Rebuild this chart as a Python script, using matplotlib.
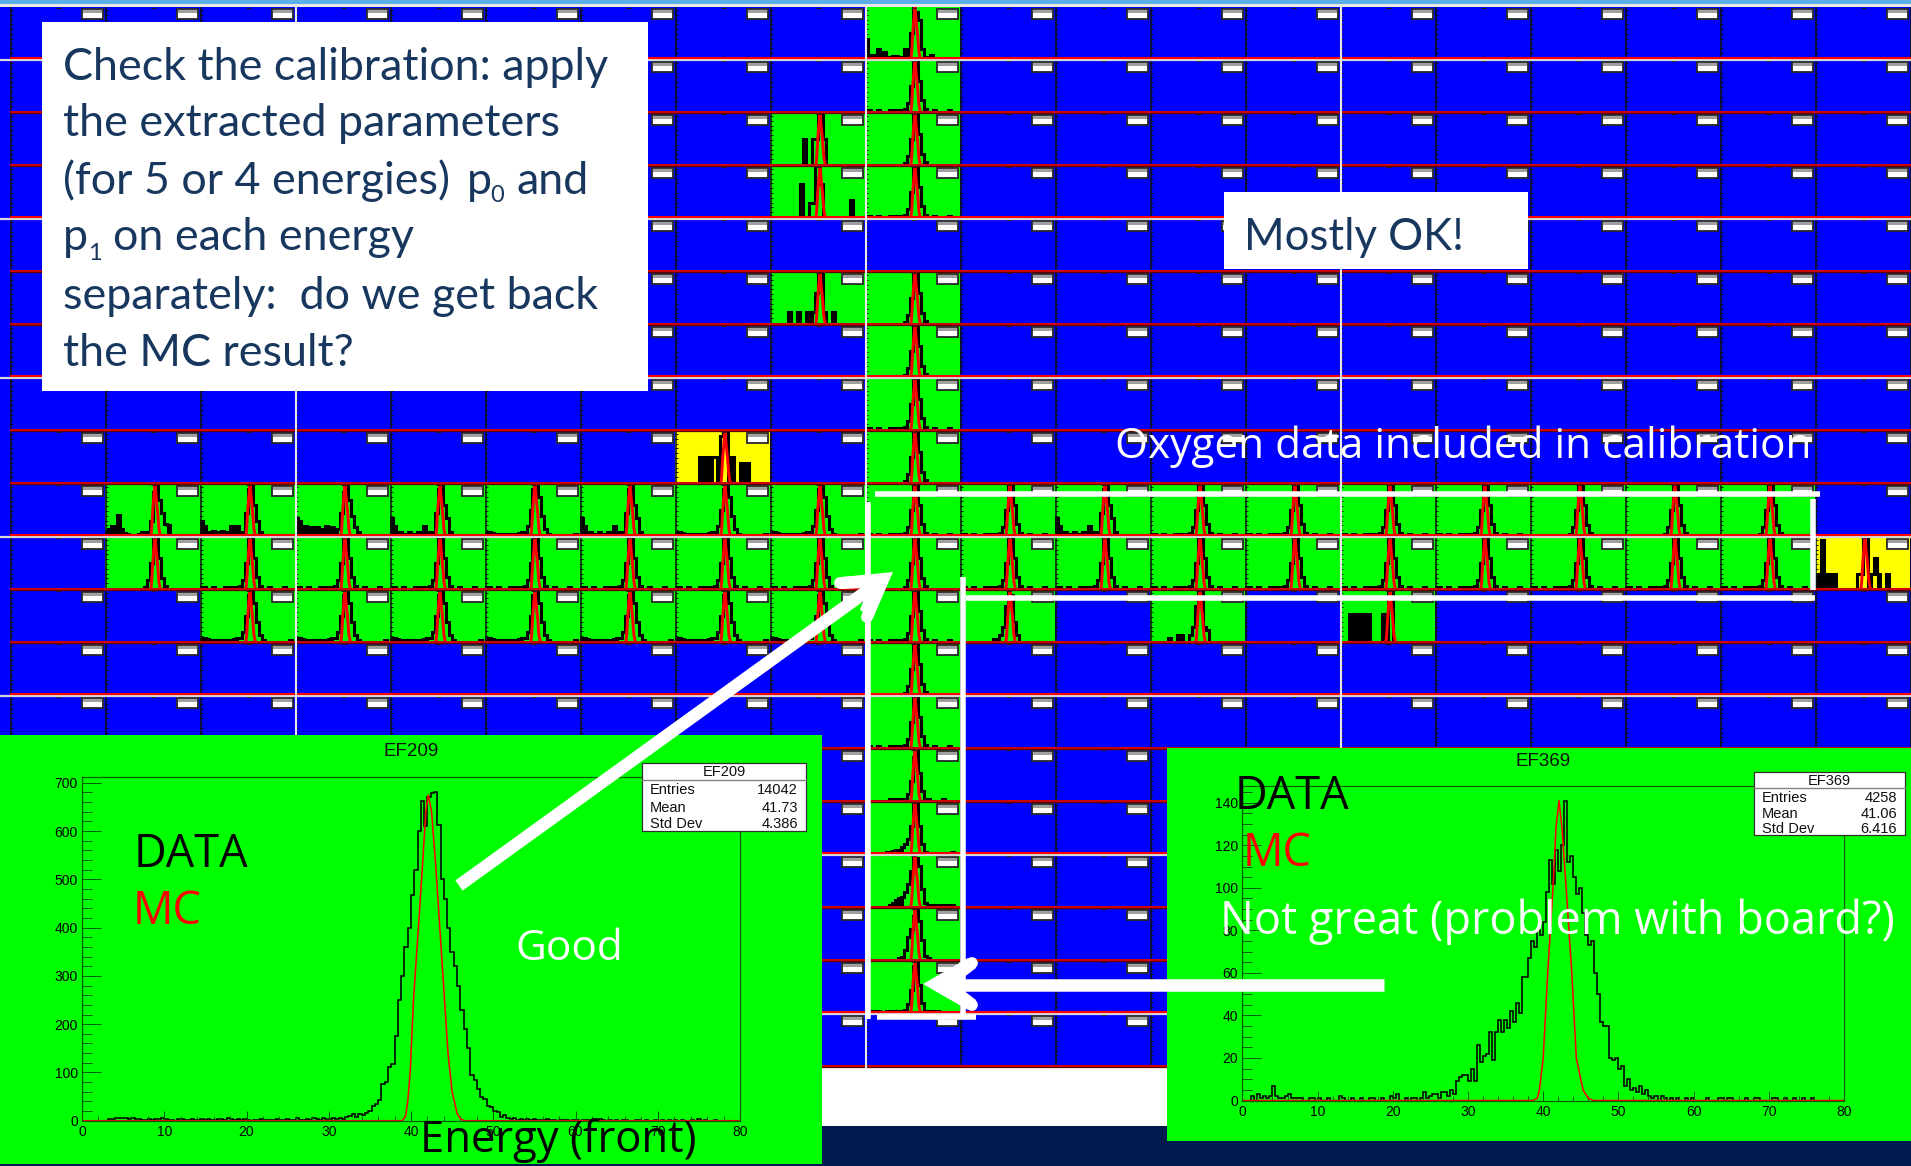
import numpy as np
import matplotlib
matplotlib.use('Agg')
import matplotlib.pyplot as plt
from matplotlib.patches import Rectangle, Polygon

W, H = 1911, 1166

# large panel EF209, bins of 0.4 from 0 to 80
ef209_hist = [
    0, 0, 0, 0, 0, 0, 0, 0, 3, 3, 5, 6, 5, 6, 4, 5, 3, 4, 2, 1,
    3, 2, 4, 3, 5, 4, 1, 2, 0, 3, 4, 2, 1, 3, 2, 1, 3, 2, 3, 1,
    2, 3, 4, 2, 5, 3, 2, 4, 1, 3, 2, 0, 1, 1, 3, 1, 2, 2, 1, 3,
    1, 2, 4, 2, 1, 5, 2, 1, 4, 1, 5, 4, 2, 6, 4, 3, 5, 4, 5, 3,
    8, 9, 13, 8, 14, 12, 15, 20, 30, 35, 42, 75, 80, 112, 118, 175, 250, 300, 360, 400,
    468, 520, 600, 662, 610, 670, 678, 680, 612, 500, 460, 400, 350, 320, 280, 230, 190, 150, 95, 85,
    65, 50, 45, 30, 28, 20, 18, 8, 12, 5, 4, 6, 2, 3, 1, 4, 2, 3, 1, 2,
    1, 3, 1, 2, 0, 1, 2, 1, 0, 2, 1, 0, 1, 2, 0, 1, 0, 3, 1, 0,
    1, 0, 2, 0, 1, 1, 0, 0, 2, 1, 0, 1, 0, 0, 2, 0, 1, 0, 1, 0,
    2, 0, 1, 0, 0, 1, 0, 3, 0, 1, 0, 0, 1, 0, 0, 0, 0, 0, 0, 0,
]
ef209_mc_x = [0, 38.7, 39.0, 39.35, 39.6, 39.9, 40.3, 40.9, 41.4, 41.8, 42.1, 42.5, 43.0, 43.5, 44.0, 44.5, 45.0, 45.6, 46.0, 46.5, 80]
ef209_mc_y = [0, 0, 1, 10, 40, 100, 250, 400, 530, 640, 675, 640, 530, 400, 270, 140, 60, 15, 4, 0, 0]

# large panel EF369
ef369_hist = [
    0, 0, 0, 2, 0, 3, 1, 2, 1, 2, 7, 2, 1, 1, 2, 3, 1, 1, 1, 1,
    0, 0, 1, 1, 0, 1, 0, 0, 1, 0, 0, 0, 2, 1, 0, 0, 1, 0, 0, 1,
    0, 0, 1, 1, 0, 0, 1, 0, 0, 2, 1, 3, 0, 0, 1, 0, 1, 1, 0, 1,
    4, 1, 2, 3, 3, 1, 4, 4, 2, 5, 3, 9, 11, 12, 12, 9, 15, 9, 26, 18,
    21, 22, 32, 19, 32, 38, 32, 38, 34, 42, 37, 46, 41, 58, 58, 67, 75, 72, 80, 78,
    84, 98, 113, 102, 118, 108, 120, 141, 112, 115, 105, 97, 100, 88, 78, 73, 75, 60, 50, 37,
    35, 35, 20, 19, 20, 15, 16, 7, 10, 5, 6, 4, 7, 3, 5, 2, 1, 2, 0, 2,
    1, 0, 1, 0, 1, 0, 0, 1, 0, 1, 0, 0, 0, 0, 1, 0, 0, 0, 1, 1,
    0, 1, 1, 0, 0, 0, 0, 1, 0, 0, 1, 1, 0, 0, 0, 0, 1, 1, 0, 0,
    1, 0, 0, 1, 0, 0, 1, 0, 0, 1, 0, 0, 0, 0, 0, 0, 0, 0, 0, 0,
]
ef369_mc_x = [0, 38.6, 39.2, 39.5, 40.0, 40.6, 41.3, 41.7, 42.1, 42.5, 43.05, 43.8, 44.4, 45.3, 46.0, 46.7, 80]
ef369_mc_y = [0, 0, 1, 5, 20, 60, 100, 128, 141, 128, 100, 60, 20, 5, 1, 0, 0]

ef209_stats = [('Entries', '14042'), ('Mean', '41.73'), ('Std Dev', '4.386')]
ef369_stats = [('Entries', '4258'), ('Mean', '41.06'), ('Std Dev', '6.416')]

# small cell histograms, 32 bins of 2.5
hist_clean = [0, 0, 0, 0, 0, 0, 0, 0, 0, 0, 0, 0, 0, .06, .18, .5, .95, 1, .6, .22, .07, 0, 0, 0, 0, 0, 0, 0, 0, 0, 0, 0]
hist_low = [.06, .05, 0, 0, .05, 0, 0, 0, .05, 0, .05, .06, .05, .08, .18, .5, .95, 1, .6, .25, .08, 0, 0, .05, 0, 0, 0, 0, .05, 0, 0, 0]
hist_a = [.1, .15, .2, .05, .42, .15, .08, .05, 0, 0, 0, .06, .1, .1, .06, .3, .85, 1, .7, .45, .25, .22, 0, 0, 0, 0, 0, 0, 0, 0, 0, 0]
hist_b = [.3, .2, .06, .1, .12, .1, .06, .12, .1, .05, .2, .05, .2, .08, .1, .45, .9, 1, .6, .3, .1, 0, 0, 0, 0, 0, 0, 0, 0, 0, 0, 0]
hist_c = [.35, .3, .15, .2, .18, .18, .15, .18, .05, .15, .2, .12, .18, .1, .15, .45, .85, 1, .7, .4, .18, .1, 0, 0, 0, 0, 0, 0, 0, 0, 0, 0]
hist_d = [.35, .2, .1, .1, .05, .05, .1, .05, .05, .1, .05, .2, .1, .05, .1, .45, .9, 1, .6, .35, .1, 0, 0, 0, 0, 0, 0, 0, 0, 0, 0, 0]
hist_e = [.08, .1, .08, .05, .05, .05, .05, .05, .05, .05, .05, .08, .1, .1, .2, .5, .9, 1, .75, .4, .15, .05, 0, 0, 0, 0, 0, 0, 0, 0, .05, 0]
hist_top = [.4, .1, .05, .1, .2, .05, .15, .05, .05, .08, .08, .05, 0, .2, .1, .5, 1, .9, .75, .2, 0, .05, .1, 0, 0, 0, 0, 0, 0, 0, 0, 0]
hist_sp2 = [0, 0, 0, 0, 0, 0, 0, 0, 0, 0, 0, .5, 0, 0, .5, .5, 1, 1, .5, 0, 0, 0, 0, 0, 0, 0, 0, 0, 0, 0, 0, 0]
hist_sp3 = [0, 0, 0, 0, 0, 0, 0, 0, 0, 0, .65, 0, 0, .3, .3, 1, 1, .65, 0, 0, 0, 0, 0, 0, 0, 0, 0, .35, 0, 0, 0, 0]
hist_sp5 = [0, 0, 0, 0, 0, 0, .25, 0, 0, .25, 0, 0, .25, 0, .25, .6, 1, 1, .25, 0, 0, .25, 0, 0, 0, 0, 0, 0, 0, 0, 0, 0]
hist_s14 = [.05, 0, 0, 0, 0, 0, 0, 0, .05, 0, .05, .05, 0, .06, .15, .4, .85, 1, .55, .2, .05, .05, 0, 0, 0, 0, .05, 0, 0, 0, 0, 0]
hist_s15 = [.05, 0, 0, 0, 0, 0, 0, .05, .06, .07, .1, .1, .15, .2, .3, .55, .95, 1, .55, .2, .06, 0, 0, 0, 0, 0, 0, 0, 0, .05, 0, 0]
hist_s16 = [.06, 0, 0, 0, 0, 0, 0, 0, .05, .1, .15, .18, .2, .3, .45, .7, 1, .95, .8, .35, .1, .05, .05, .05, .05, .05, .05, 0, .05, .05, 0, 0]
hist_s17 = [0, 0, 0, 0, 0, 0, 0, 0, 0, 0, 0, .05, .08, .2, .45, .6, .85, 1, .75, .4, .1, .06, 0, 0, 0, 0, 0, 0, 0, 0, 0, 0]
hist_s18 = [.05, 0, .05, 0, .05, 0, 0, .05, 0, .05, 0, .05, .05, .08, .18, .45, .9, 1, .55, .2, .05, .05, .05, 0, .05, 0, 0, 0, 0, 0, 0, 0]
hist_y8 = [0, 0, 0, 0, 0, 0, 0, 0, .5, .5, .5, .5, .5, .5, 0, .9, 1, 1, 0, .5, 0, 0, .4, 0, .4, 0, 0, 0, 0, 0, 0, 0]
hist_y10 = [.3, .3, .95, .3, 0, .3, .3, 0, 0, 0, 0, 0, 0, 0, .3, .3, 1, 1, 0, .3, .6, .3, 0, 0, .3, 0, 0, 0, 0, 0, 0, 0]
hist_r11a = [0, 0, 0, 0, 0, 0, 0, 0, 0, 0, 0, .08, .08, .15, .3, .7, 1, .9, .4, .15, 0, 0, 0, 0, 0, 0, 0, 0, 0, 0, 0, 0]
hist_r11b = [0, 0, 0, 0, 0, 0, .1, 0, 0, .15, .15, 0, 0, .15, .3, .7, 1, 1, .3, .25, 0, 0, 0, 0, 0, 0, 0, 0, 0, 0, 0, 0]
hist_r11c = [0, 0, 0, .55, 0, .55, .3, .55, 0, .55, 0, 0, 0, 0, .55, 0, 1, 1, 0, 0, 0, 0, 0, 0, 0, 0, 0, 0, 0, 0, 0, 0]

cell_bins = 32
peak_bins = [13, 14, 15, 16, 17, 18, 19, 20]
cell_mc_x = [0, 38.6, 39.3, 40.2, 41.2, 42.1, 43.1, 44.2, 45.4, 46.8, 80]
cell_mc_y = [0, 0, .15, .5, .78, 1, .74, .5, .15, 0, 0]

# (row, col, fill colour, histogram)
cells = [
    (0, 9, 'g', hist_top), (1, 9, 'g', hist_low), (2, 9, 'g', hist_clean), (3, 9, 'g', hist_low),
    (2, 8, 'g', hist_sp2), (3, 8, 'g', hist_sp3), (5, 8, 'g', hist_sp5),
    (5, 9, 'g', hist_clean), (6, 9, 'g', hist_clean), (7, 9, 'g', hist_low), (8, 9, 'g', hist_clean),
    (8, 7, 'y', hist_y8),
    (9, 1, 'g', hist_a), (9, 2, 'g', hist_b), (9, 3, 'g', hist_c), (9, 4, 'g', hist_d),
    (9, 5, 'g', hist_e), (9, 6, 'g', hist_d), (9, 7, 'g', hist_e), (9, 8, 'g', hist_e),
    (9, 9, 'g', hist_low), (9, 10, 'g', hist_low), (9, 11, 'g', hist_d), (9, 12, 'g', hist_low),
    (9, 13, 'g', hist_low), (9, 14, 'g', hist_low), (9, 15, 'g', hist_low), (9, 16, 'g', hist_clean),
    (9, 17, 'g', hist_clean), (9, 18, 'g', hist_clean),
    (10, 1, 'g', hist_clean), (10, 2, 'g', hist_low), (10, 3, 'g', hist_low), (10, 4, 'g', hist_low),
    (10, 5, 'g', hist_low), (10, 6, 'g', hist_low), (10, 7, 'g', hist_low), (10, 8, 'g', hist_low),
    (10, 9, 'g', hist_clean), (10, 10, 'g', hist_low), (10, 11, 'g', hist_low), (10, 12, 'g', hist_low),
    (10, 13, 'g', hist_low), (10, 14, 'g', hist_low), (10, 15, 'g', hist_low), (10, 16, 'g', hist_low),
    (10, 17, 'g', hist_low), (10, 18, 'g', hist_low), (10, 19, 'y', hist_y10),
    (11, 2, 'g', hist_e), (11, 3, 'g', hist_e), (11, 4, 'g', hist_e), (11, 5, 'g', hist_e),
    (11, 6, 'g', hist_e), (11, 7, 'g', hist_e), (11, 8, 'g', hist_e), (11, 9, 'g', hist_low),
    (11, 10, 'g', hist_r11a), (11, 12, 'g', hist_r11b), (11, 14, 'g', hist_r11c),
    (12, 9, 'g', hist_clean), (13, 9, 'g', hist_low), (14, 9, 'g', hist_s14), (15, 9, 'g', hist_s15),
    (16, 9, 'g', hist_s16), (17, 9, 'g', hist_s17), (18, 9, 'g', hist_s18),
]

fill_colors = {'g': '#00FF00', 'y': '#FFFF00'}
x0_grid, col_w, n_cols = 10, 95, 20
y0_grid, row_h, n_rows = 6, 53, 20
white_rows = [0, 3, 6, 9, 12, 15, 18]
white_cols = [3, 9, 14]

box_lines = [
    (63, 80, 'Check the calibration: apply'),
    (63, 136, 'the extracted parameters'),
    (63, 194, '(for 5 or 4 energies)'),
    (467, 194, 'p'),
    (516, 194, 'and'),
    (63, 250, 'p'),
    (113, 250, 'on each energy'),
    (63, 309, 'separately:  do we get back'),
    (63, 366, 'the MC result?'),
]

plt.rcParams['font.family'] = 'Liberation Sans'
fig = plt.figure(figsize=(W / 100, H / 100), dpi=100, facecolor='#001A4D')


def px_axes(x0, y0, x1, y1, z):
    return fig.add_axes([x0 / W, 1 - y1 / H, (x1 - x0) / W, (y1 - y0) / H], zorder=z)


def pixel_layer(z):
    a = px_axes(0, 0, W, H, z)
    a.set_xlim(0, W)
    a.set_ylim(H, 0)
    a.axis('off')
    return a


# background and the blue grid
base = pixel_layer(0)
base.add_patch(Rectangle((0, 0), W, 3.5, color='#5BAEE8', lw=0))
base.add_patch(Rectangle((0, 3.5), W, 3.5, color='#E8E8E8', lw=0))
base.add_patch(Rectangle((0, 7), W, 1061, color='#0000FF', lw=0))
base.add_patch(Rectangle((0, 1068), W, 58, color='white', lw=0))

# filled cells
edges = np.linspace(0, 80, cell_bins + 1)
for row, col, fill, values in cells:
    cx = x0_grid + col * col_w
    cy = y0_grid + row * row_h
    a = px_axes(cx, cy + 1, cx + col_w, cy + row_h - 1, 1)
    a.set_xlim(0, 80)
    a.set_ylim(.035, 1)
    a.set_xticks([])
    a.set_yticks([])
    a.set_facecolor(fill_colors[fill])
    for s in a.spines.values():
        s.set_visible(False)
    # noise away from the peak reads as solid black at this size
    side = np.array(values, dtype=float)
    side[peak_bins] = 0
    a.stairs(side, edges, color='black', fill=True, lw=0)
    a.stairs(values, edges, color='black', lw=2.2)
    a.plot(cell_mc_x, cell_mc_y, color='#FF0000', lw=2.1)

# ticks, separators and the small stat boxes on top of the cells
lines = pixel_layer(2)
for c in range(n_cols + 1):
    cx = x0_grid + c * col_w
    lines.vlines(cx + .5, y0_grid + 1, 1066, color='#101010', lw=1.1)
    tick_y = [y0_grid + r * row_h + 4 + k * 4.8 for r in range(n_rows) for k in range(10)]
    lines.hlines(tick_y, cx, cx + 2.5, color='#101010', lw=.7)
    lines.hlines([y0_grid + r * row_h + 1.5 for r in range(n_rows)], cx + 46, cx + 51, color='#202020', lw=.8)
for r in range(1, n_rows + 1):
    ry = y0_grid + r * row_h
    if r - 1 in white_rows:
        lines.hlines(ry + 1.2, 0, W, color='#D8D8D8', lw=1.6)
        lines.hlines(ry - .6, x0_grid, W, color='#FF0000', lw=1.5)
    else:
        lines.hlines(ry + .8, x0_grid, W, color='#600000', lw=.9)
        lines.hlines(ry - .4, x0_grid, W, color='#D00000', lw=1.4)
for c in white_cols:
    lines.vlines(x0_grid + c * col_w + .5, 7, 1068, color='#E8E8E8', lw=1.5)
for r in range(n_rows):
    for c in range(n_cols):
        bx = x0_grid + c * col_w + 72
        by = y0_grid + r * row_h + 3
        lines.add_patch(Rectangle((bx, by), 21, 10, fc='white', ec='#282828', lw=1.3))
        lines.add_patch(Rectangle((bx + 1, by + 1), 19, 3, fc='#A0A0A0', ec='none'))


# panels
def draw_panel(rect, frame, title, title_xy, values, mc_x, mc_y, ytop, ymajor, yminor, stats, stat_box):
    bg = px_axes(rect[0], rect[1], rect[2], rect[3], 4)
    bg.set_facecolor('#00FF00')
    bg.set_xticks([])
    bg.set_yticks([])
    for s in bg.spines.values():
        s.set_visible(False)

    a = px_axes(frame[0], frame[1], frame[2], frame[3], 5)
    a.patch.set_alpha(0)
    a.set_xlim(0, 80)
    a.set_ylim(0, ytop)
    bin_edges = np.arange(len(values) + 1) * 0.4
    a.stairs(values, bin_edges, color='black', lw=1.15)
    a.plot(mc_x, mc_y, color='#FF0000', lw=1.1)
    a.set_xticks(np.arange(0, 81, 10))
    a.set_xticks(np.arange(0, 81, 2), minor=True)
    a.set_yticks(ymajor)
    a.set_yticks(yminor, minor=True)
    a.tick_params(axis='x', which='major', direction='in', length=7, width=.7, color='#005A00', labelsize=10, pad=3)
    a.tick_params(axis='x', which='minor', direction='in', length=3.5, width=.7, color='#005A00')
    a.tick_params(axis='y', which='major', direction='in', length=14, width=.7, color='#005A00', labelsize=10, pad=3)
    a.tick_params(axis='y', which='minor', direction='in', length=7, width=.7, color='#005A00')
    for s in a.spines.values():
        s.set_color('#006000')
        s.set_linewidth(.9)

    t = pixel_layer(6)
    t.text(title_xy[0], title_xy[1], title, fontsize=13.5, ha='center', va='center', color='#101010')
    x0, y0, x1, y1, split = stat_box
    t.add_patch(Rectangle((x0, y0), x1 - x0, y1 - y0, fc='white', ec='#303030', lw=.9))
    t.plot([x0, x1], [split, split], color='#808080', lw=1)
    t.text((x0 + x1) / 2, (y0 + split) / 2 + 1, title, fontsize=10.5, ha='center', va='center', color='#101010')
    step = (y1 - split) / 3
    for i, (name, val) in enumerate(stats):
        t.text(x0 + 8, split + step * (i + .5) + 2, name, fontsize=10.5, va='center', color='#101010')
        t.text(x1 - 8, split + step * (i + .5) + 2, val, fontsize=10.5, va='center', ha='right', color='#101010')


draw_panel((0, 735, 822, 1164), (82, 777, 740, 1120.7), 'EF209', (411, 752), ef209_hist, ef209_mc_x, ef209_mc_y,
           712, np.arange(0, 701, 100), np.arange(0, 701, 20), ef209_stats, (642, 763, 806, 831, 780))
draw_panel((1167, 748, 1911, 1141), (1242.4, 785.7, 1844, 1100.5), 'EF369', (1543, 762), ef369_hist, ef369_mc_x, ef369_mc_y,
           148, np.arange(0, 141, 20), np.arange(0, 146, 5), ef369_stats, (1754, 772, 1905, 835, 788))

# white boxes, outlines, arrows and slide text
top = pixel_layer(10)
box_font = 'Lato'
box_color = '#17375E'
top.add_patch(Rectangle((42, 22), 606, 369, color='white', lw=0))
for x, y, s in box_lines:
    top.text(x, y, s, family=box_font, fontsize=32.3, color=box_color, va='baseline')
top.text(490, 202, '0', family=box_font, fontsize=17, color=box_color, va='baseline')
top.text(88, 260, '1', family=box_font, fontsize=17, color=box_color, va='baseline')

top.add_patch(Rectangle((1224, 192), 304, 77, color='white', lw=0))
top.text(1244, 250, 'Mostly OK!', family=box_font, fontsize=31.5, color=box_color, va='baseline')

slide_font = 'Open Sans'
top.text(1115, 458, 'Oxygen data included in calibration', family=slide_font, fontsize=30.5, color='white', va='baseline')
top.text(134, 867, 'DATA', family=slide_font, fontsize=32.5, color='black', va='baseline')
top.text(133, 924, 'MC', family=slide_font, fontsize=32.5, color='#FF0000', va='baseline')
top.text(515, 960, 'Good', family=slide_font, fontsize=30.5, color='white', va='baseline')
top.text(420, 1152, 'Energy (front)', family=slide_font, fontsize=31.4, color='black', va='baseline')
top.text(1235, 809, 'DATA', family=slide_font, fontsize=32.5, color='black', va='baseline')
top.text(1243, 866, 'MC', family=slide_font, fontsize=32.5, color='#FF0000', va='baseline')
top.text(1220, 934, 'Not great (problem with board?)', family=slide_font, fontsize=32.5, color='white', va='baseline')

# outline around the calibrated cells
outline_w = 4
top.plot([875, 1820], [494, 494], color='white', lw=outline_w, solid_capstyle='butt')
top.plot([1813, 1813], [499, 590], color='white', lw=outline_w, solid_capstyle='butt')
top.plot([966, 1815], [597.5, 597.5], color='white', lw=outline_w, solid_capstyle='butt')
top.plot([868, 868], [502, 1019], color='white', lw=outline_w, solid_capstyle='butt')
top.plot([963, 963], [577, 1019], color='white', lw=outline_w, solid_capstyle='butt')
top.plot([877, 976], [1017, 1017], color='white', lw=outline_w, solid_capstyle='butt')

# diagonal arrow
top.plot([459, 878], [885.5, 583], color='white', lw=9, solid_capstyle='butt')
top.add_patch(Polygon([(893, 572), (842, 577), (840, 589), (868, 588), (860, 610), (873, 618)], color='white', lw=0))
top.plot([840, 870], [583, 581], color='white', lw=8.5, solid_capstyle='round')
top.plot([867, 878], [617, 590], color='white', lw=8.5, solid_capstyle='round')

# horizontal arrow
top.plot([945, 1384], [984.5, 984.5], color='white', lw=9, solid_capstyle='butt')
top.add_patch(Polygon([(923, 984), (968, 958), (976, 968), (955, 984), (976, 1000), (968, 1010)], color='white', lw=0))
top.plot([972, 960], [963, 970], color='white', lw=8.5, solid_capstyle='round')
top.plot([972, 960], [1005, 998], color='white', lw=8.5, solid_capstyle='round')

fig.savefig('out.png', dpi=100, facecolor=fig.get_facecolor())
